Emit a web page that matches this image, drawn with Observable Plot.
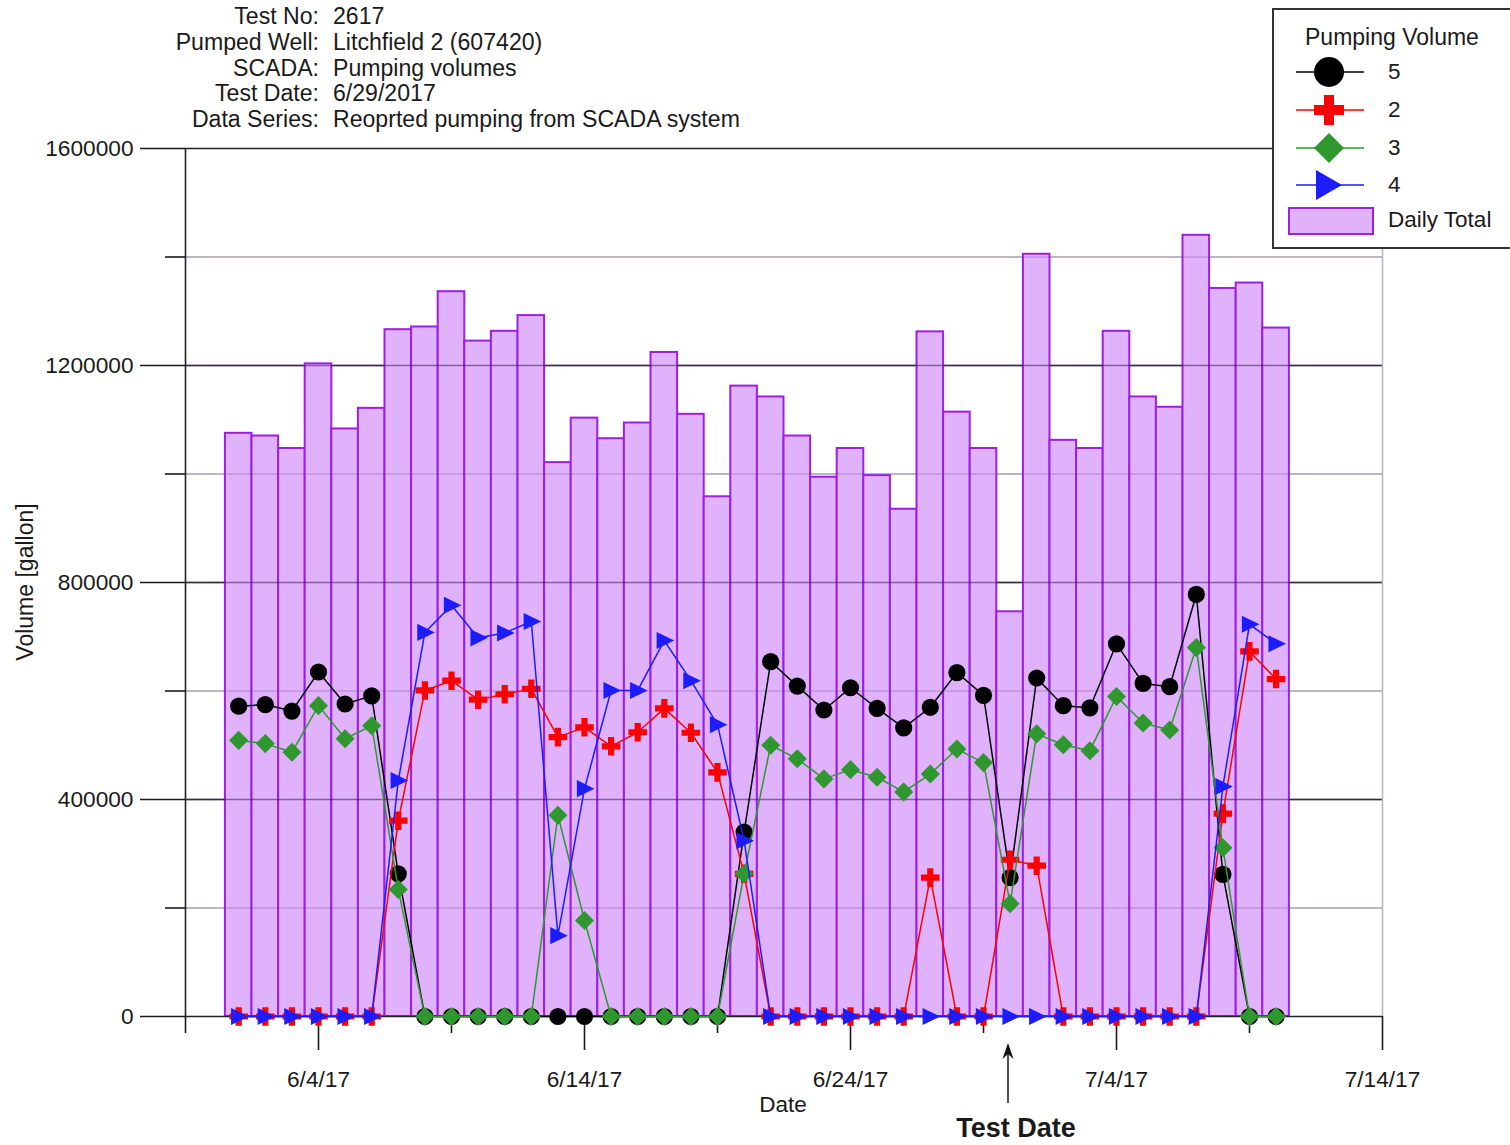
<!DOCTYPE html>
<html>
<head>
<meta charset="utf-8">
<script src="https://cdn.jsdelivr.net/npm/d3@7"></script>
<script src="https://cdn.jsdelivr.net/npm/@observablehq/plot@0.6"></script>
<style>
  body { margin: 0; background: #fff; overflow: hidden; }
  #wrap { position: relative; width: 1510px; height: 1145px; overflow: hidden;
          font-family: "Liberation Sans", Arial, sans-serif; color: #1a1a1a; font-size: 22.5px; }
  .abs { position: absolute; white-space: nowrap; }
  #chart svg { position: absolute; left: 0; top: 0; }
</style>
</head>
<body>
<div id="wrap"><div id="chart"></div></div>
<script>
// ---------------- data ----------------
const dates = [
  "2017-06-01","2017-06-02","2017-06-03","2017-06-04","2017-06-05","2017-06-06","2017-06-07","2017-06-08",
  "2017-06-09","2017-06-10","2017-06-11","2017-06-12","2017-06-13","2017-06-14","2017-06-15","2017-06-16",
  "2017-06-17","2017-06-18","2017-06-19","2017-06-20","2017-06-21","2017-06-22","2017-06-23","2017-06-24",
  "2017-06-25","2017-06-26","2017-06-27","2017-06-28","2017-06-29","2017-06-30","2017-07-01","2017-07-02",
  "2017-07-03","2017-07-04","2017-07-05","2017-07-06","2017-07-07","2017-07-08","2017-07-09","2017-07-10"
];
const dailyTotal = [1075000,1070000,1047000,1203000,1083000,1121000,1266000,1271000,1336000,1245000,
  1263000,1292000,1021000,1103000,1065000,1094000,1224000,1110000,958000,1162000,
  1142000,1070000,994000,1047000,997000,935000,1262000,1114000,1047000,746000,
  1405000,1062000,1047000,1263000,1142000,1123000,1440000,1342000,1352000,1269000];
const well5 = [572000,575000,563000,635000,576000,591000,263000,0,0,0,
  0,0,0,0,0,0,0,0,0,340000,
  654000,609000,565000,606000,568000,532000,570000,634000,592000,256000,
  624000,573000,569000,687000,614000,608000,778000,262000,0,0];
const well2 = [0,0,0,0,0,0,361000,601000,619000,584000,
  594000,604000,515000,533000,498000,524000,568000,523000,450000,263000,
  0,0,0,0,0,0,256000,0,0,289000,
  278000,0,0,0,0,0,0,374000,673000,622000];
const well3 = [509000,503000,487000,573000,512000,536000,234000,0,0,0,
  0,0,371000,177000,0,0,0,0,0,263000,
  500000,475000,438000,455000,441000,414000,447000,493000,468000,208000,
  521000,501000,490000,590000,541000,528000,680000,311000,0,0];
const well4 = [0,0,0,0,0,0,435000,708000,758000,698000,
  707000,728000,149000,420000,601000,601000,693000,619000,538000,324000,
  0,0,0,0,0,0,0,0,0,0,
  0,0,0,0,0,0,0,424000,723000,687000];
const seriesNames = ["5", "2", "3", "4"];
const yMajorTicks = [0, 400000, 800000, 1200000, 1600000];
const yMinorTicks = [200000, 600000, 1000000, 1400000];
const xMajorTicks = ["2017-06-04","2017-06-14","2017-06-24","2017-07-04","2017-07-14"];
const xMinorTicks = ["2017-05-30","2017-06-09","2017-06-19","2017-06-29","2017-07-09"];
const xDomain = ["2017-05-30","2017-07-14"];
const testDate = "2017-06-29T22:30";
const headerLabels = ["Test No:", "Pumped Well:", "SCADA:", "Test Date:", "Data Series:"];
const headerValues = ["2617", "Litchfield 2 (607420)", "Pumping volumes", "6/29/2017", "Reoprted pumping from SCADA system"];

// ---------------- build ----------------
const parse = d3.utcParse("%Y-%m-%d");
const parseT = d3.utcParse("%Y-%m-%dT%H:%M");
const bars = dates.map((d, i) => {
  const t = parse(d);
  return {date: t, x1: d3.utcHour.offset(t, -12), x2: d3.utcHour.offset(t, 12), total: dailyTotal[i]};
});
const triRight = {
  draw(ctx, size) {
    const r = Math.sqrt(size / Math.PI);
    ctx.moveTo(-0.85 * r, -0.95 * r);
    ctx.lineTo(1.1 * r, 0);
    ctx.lineTo(-0.85 * r, 0.95 * r);
    ctx.closePath();
  }
};
const seriesDefs = [
  {name: seriesNames[0], values: well5, color: "#000000", symbol: "circle", r: 8.6},
  {name: seriesNames[1], values: well2, color: "#ff0000", symbol: "cross", r: 7.8},
  {name: seriesNames[2], values: well3, color: "#2e982e", symbol: "diamond2", r: 8.6},
  {name: seriesNames[3], values: well4, color: "#1c1cff", symbol: triRight, r: 9}
];

const seriesMarks = [];
for (const s of seriesDefs) {
  const rows = dates.map((d, i) => ({date: parse(d), v: s.values[i]}));
  seriesMarks.push(Plot.line(rows, {x: "date", y: "v", stroke: s.color, strokeWidth: 1.5}));
  seriesMarks.push(Plot.dot(rows, {x: "date", y: "v", symbol: s.symbol, fill: s.color, r: s.r}));
}

const gridMajor = [400000, 800000, 1200000];
const frameLines = [0, 1600000];
const x0 = parse(xDomain[0]), x1 = parse(xDomain[1]);

const chart = Plot.plot({
  width: 1510,
  height: 1145,
  marginTop: 148,
  marginRight: 128,
  marginBottom: 129,
  marginLeft: 185,
  style: {fontFamily: "'Liberation Sans', Arial, sans-serif", fontSize: "22.7px", color: "#1a1a1a", background: "transparent", overflow: "visible"},
  x: {type: "utc", domain: [x0, x1]},
  y: {domain: [0, 1600000]},
  marks: [
    // grid (under bars)
    Plot.ruleY(yMinorTicks, {stroke: "#c4c4c4", strokeWidth: 1.6}),
    Plot.ruleY(gridMajor, {stroke: "#3a3a3a", strokeWidth: 1.6}),
    Plot.ruleX([x1], {y1: 0, y2: 1600000, stroke: "#b8b8b8", strokeWidth: 1.6}),
    // bars
    Plot.rectY(bars, {x1: "x1", x2: "x2", y: "total", fill: "#e0b2fb", stroke: "#9d1fe6", strokeWidth: 2}),
    // grid showing faintly through the bars
    Plot.ruleY(yMinorTicks, {stroke: "#6a3a8a", strokeOpacity: 0.25, strokeWidth: 1.4}),
    Plot.ruleY(gridMajor, {stroke: "#3a1a50", strokeOpacity: 0.55, strokeWidth: 1.4}),
    // frame lines
    Plot.ruleY(frameLines, {stroke: "#222", strokeWidth: 1.6}),
    Plot.ruleX([x0], {y1: 0, y2: 1600000, stroke: "#222", strokeWidth: 1.6}),
    // axes
    Plot.axisY(yMajorTicks, {tickSize: 45, tickPadding: 7, tickFormat: d3.format("d"), label: null, strokeWidth: 1.6}),
    Plot.axisY(yMinorTicks, {tickSize: 20, tickFormat: () => "", label: null, strokeWidth: 1.6}),
    Plot.axisX(xMajorTicks.map(parse), {tickSize: 34, tickPadding: 20, tickFormat: d3.utcFormat("%-m/%-d/%y"), label: null, strokeWidth: 1.6}),
    Plot.axisX(xMinorTicks.map(parse), {tickSize: 17, tickFormat: () => "", label: null, strokeWidth: 1.6}),
    // series
    ...seriesMarks
  ]
});
document.getElementById("chart").appendChild(chart);

// ---------------- annotations (HTML overlay) ----------------
const wrap = document.getElementById("wrap");
function addDiv(html, style) {
  const d = document.createElement("div");
  d.className = "abs";
  d.innerHTML = html;
  Object.assign(d.style, style);
  wrap.appendChild(d);
  return d;
}
// header
addDiv(headerLabels.join("<br>"), {left: "0px", width: "319px", textAlign: "right", top: "4px", lineHeight: "25.75px", fontSize: "23.1px"});
addDiv(headerValues.join("<br>"), {left: "333px", top: "4px", lineHeight: "25.75px", fontSize: "23.1px"});
// axis titles
addDiv("Volume [gallon]", {left: "25px", top: "582px", transform: "translate(-50%,-50%) rotate(-90deg)", fontSize: "23px"});
addDiv("Date", {left: "783px", top: "1105px", transform: "translate(-50%,-50%)"});

// test-date arrow placed through the chart's x scale
const xs = chart.scale("x");
const tx = xs.apply(parseT(testDate));
addDiv("Test Date", {left: (tx + 8) + "px", top: "1128px", transform: "translate(-50%,-50%)", fontWeight: "bold", fontSize: "27px"});
const ns = "http://www.w3.org/2000/svg";
const arr = document.createElementNS(ns, "svg");
arr.setAttribute("width", 40); arr.setAttribute("height", 70);
Object.assign(arr.style, {position: "absolute", left: (tx - 20) + "px", top: "1040px"});
arr.innerHTML = `<line x1="20" y1="8" x2="20" y2="63" stroke="#222" stroke-width="1.6"/>
  <path d="M20,3 L25.5,19 L20,14 L14.5,19 Z" fill="#111"/>`;
wrap.appendChild(arr);

// legend
const lg = document.createElement("div");
lg.className = "abs";
Object.assign(lg.style, {left: "1272px", top: "8px", width: "250px", height: "241px", border: "2px solid #333", boxSizing: "border-box", background: "#fff"});
wrap.appendChild(lg);
addDiv("Pumping Volume", {left: "1305px", top: "37px", transform: "translate(0,-50%)", fontSize: "23px"});
const lsvg = document.createElementNS(ns, "svg");
lsvg.setAttribute("width", 240); lsvg.setAttribute("height", 250);
Object.assign(lsvg.style, {position: "absolute", left: "1272px", top: "0px"});
const legendRows = [72, 110, 148, 185];
const cx = 57; // 1329 - 1272
let lhtml = "";
seriesDefs.forEach((s, i) => {
  const cy = legendRows[i];
  lhtml += `<line x1="24" x2="92" y1="${cy}" y2="${cy}" stroke="${s.color}" stroke-width="1.6"/>`;
  if (i === 0) lhtml += `<circle cx="${cx}" cy="${cy}" r="15" fill="${s.color}"/>`;
  if (i === 1) lhtml += `<path d="M${cx-5},${cy-15}h10v10h10v10h-10v10h-10v-10h-10v-10h10z" fill="${s.color}"/>`;
  if (i === 2) lhtml += `<path d="M${cx},${cy-15}L${cx+15},${cy}L${cx},${cy+15}L${cx-15},${cy}Z" fill="${s.color}"/>`;
  if (i === 3) lhtml += `<path d="M${cx-13},${cy-15}L${cx+13},${cy}L${cx-13},${cy+15}Z" fill="${s.color}"/>`;
});
lhtml += `<rect x="17" y="208" width="84" height="26" fill="#e0b2fb" stroke="#9d1fe6" stroke-width="2"/>`;
lsvg.innerHTML = lhtml;
wrap.appendChild(lsvg);
seriesDefs.forEach((s, i) => addDiv(s.name, {left: "1388px", top: legendRows[i] + "px", transform: "translate(0,-50%)"}));
addDiv("Daily Total", {left: "1388px", top: "220px", transform: "translate(0,-50%)"});
</script>
</body>
</html>
